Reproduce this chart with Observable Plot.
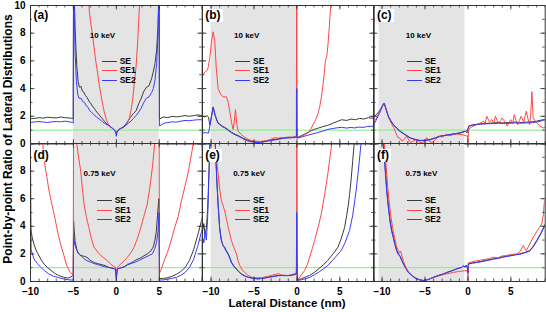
<!DOCTYPE html>
<html>
<head>
<meta charset="utf-8">
<script src="https://cdn.jsdelivr.net/npm/d3@7"></script>
<script src="https://cdn.jsdelivr.net/npm/@observablehq/plot@0.6"></script>
<style>
  body { margin: 0; background: #fff; }
  #chart { position: relative; width: 546px; height: 312px; overflow: hidden;
           font-family: "Liberation Sans", Arial, sans-serif; font-weight: bold; color: #000; }
  .abs { position: absolute; white-space: nowrap; }
  .plabel { font-size: 12px; line-height: 13px; background: #fff; padding: 0 2px; }
  .energy { font-size: 8px; line-height: 8px; transform: translateX(-50%); }
  .legend { font-size: 8.5px; line-height: 9.6px; }
  .legend .row { display: flex; align-items: center; }
  .legend .swatch { display: inline-block; width: 15px; height: 0; border-top: 1px solid; margin-right: 3px; }
  .ytitle { font-size: 12px; transform: translate(-50%, -50%) rotate(-90deg); }
  .xtitle { font-size: 11.5px; transform: translateX(-50%); }
</style>
</head>
<body>
<div id="chart"></div>
<script>
// Point-by-point ratio of lateral distributions, [x (nm), ratio] pairs.
// Values above the axis top (10) are kept off-scale and clipped by the frame.

// (a) 10 keV
const a_SE = [[-10,1.82],[-9.5,1.85],[-9,1.9],[-8.5,1.87],[-8,1.93],[-7.5,1.9],[-7,1.88],[-6.5,1.95],[-6,1.9],[-5.5,1.88],[-5.1,1.85],[-5.02,1.8],[-4.98,14],[-4.9,10.5],[-4.8,8.3],[-4.7,6.8],[-4.6,5.6],[-4.45,4.5],[-4.3,4.1],[-4.1,4.15],[-3.95,3.8],[-3.8,3.75],[-3.6,3.5],[-3.4,3.35],[-3.2,3.1],[-3,2.95],[-2.8,2.75],[-2.6,2.6],[-2.4,2.4],[-2.2,2.25],[-2,2.1],[-1.8,1.95],[-1.6,1.8],[-1.4,1.65],[-1.2,1.5],[-1,1.4],[-0.8,1.3],[-0.6,1.2],[-0.4,1.1],[-0.2,1],[-0.08,0.9],[0,0.7],[0.08,0.9],[0.2,1],[0.4,1.1],[0.6,1.15],[0.8,1.25],[1,1.35],[1.3,1.6],[1.6,1.9],[2,2.2],[2.3,2.4],[2.6,2.9],[2.9,3.3],[3.2,3.8],[3.5,4.1],[3.8,4.2],[4.1,4.7],[4.3,5.2],[4.5,5.8],[4.7,6.8],[4.85,8.5],[4.95,11],[4.98,14],[5.02,1.8],[5.5,1.95],[6,1.9],[6.5,2],[7,1.95],[7.5,2],[8,2.05],[8.5,2],[9,2.05],[9.5,2.1],[10,2.05]];
const a_SE1 = [[-10,14],[-3.3,11],[-3.15,9.6],[-3,8.8],[-2.8,8],[-2.6,7],[-2.4,6],[-2.2,5.2],[-2,4.3],[-1.8,3.55],[-1.6,2.9],[-1.4,2.3],[-1.2,1.85],[-1,1.5],[-0.8,1.3],[-0.6,1.2],[-0.4,1.12],[-0.2,1],[-0.08,0.9],[0,0.7],[0.1,0.95],[0.3,1.08],[0.6,1.15],[0.9,1.22],[1.2,1.45],[1.5,1.8],[1.7,2.4],[1.9,3.2],[2.1,4.4],[2.3,5.6],[2.5,7.5],[2.65,9.5],[2.8,11],[10,14]];
const a_SE2 = [[-10,1.55],[-9.5,1.6],[-9,1.62],[-8.5,1.58],[-8,1.55],[-7.5,1.6],[-7,1.62],[-6.5,1.6],[-6,1.65],[-5.5,1.6],[-5.1,1.55],[-5.02,1.5],[-4.98,14],[-4.9,9.5],[-4.8,6.5],[-4.65,4.5],[-4.5,3.6],[-4.35,3.3],[-4.1,3.3],[-3.9,3.05],[-3.7,3],[-3.5,2.75],[-3.3,2.65],[-3.1,2.4],[-2.9,2.3],[-2.6,2.1],[-2.3,1.95],[-2,1.8],[-1.7,1.65],[-1.4,1.5],[-1.1,1.4],[-0.8,1.3],[-0.5,1.15],[-0.25,1],[-0.08,0.85],[0,0.55],[0.08,0.85],[0.25,1],[0.5,1.1],[0.8,1.2],[1.1,1.35],[1.4,1.5],[1.7,1.65],[2,1.85],[2.3,2.05],[2.6,2.3],[2.9,2.6],[3.2,3],[3.5,3.3],[3.8,3.4],[4.1,3.7],[4.3,4],[4.5,4.6],[4.7,5.8],[4.85,7.8],[4.95,10.5],[4.98,14],[5.02,1.3],[5.3,1.4],[5.6,1.5],[6,1.55],[6.5,1.6],[7,1.58],[7.5,1.65],[8,1.7],[8.5,1.68],[9,1.72],[9.5,1.75],[10,1.75]];

// (b) 10 keV
const b_SE = [[-11,2],[-10.7,1.95],[-10.5,2.05],[-10.3,1.95],[-10.15,1.35],[-10,1.85],[-9.76,2.68],[-9.55,2.15],[-9.37,1.8],[-9.2,1.55],[-8.99,1.44],[-8.7,1.29],[-8.4,1.2],[-8,1.02],[-7.63,0.85],[-7.2,0.7],[-6.85,0.61],[-6.3,0.42],[-5.69,0.25],[-5.1,0.17],[-4.53,0.14],[-3.9,0.19],[-3.36,0.25],[-2.8,0.31],[-2.2,0.37],[-1.6,0.44],[-1.03,0.49],[-0.5,0.49],[-0.05,0.52],[-0.02,1.15],[0.02,0.45],[0.5,0.6],[1,0.75],[1.5,0.9],[2,1.05],[2.5,1.15],[3,1.25],[3.6,1.35],[4.2,1.5],[4.8,1.65],[5.2,1.75],[5.8,1.7],[6.3,1.8],[6.8,1.75],[7.3,1.85],[7.8,1.8],[8.3,1.9],[9,1.85]];
const b_SE1 = [[-11,5],[-10.7,5.2],[-10.4,5.35],[-10.15,6.2],[-9.95,7.4],[-9.76,8.1],[-9.57,7.4],[-9.4,5.5],[-9.18,4],[-8.9,3.6],[-8.6,3.4],[-8.2,3.4],[-8,3],[-7.83,2.36],[-7.6,1.5],[-7.44,1.05],[-7.3,1.6],[-7.16,2.48],[-7,1.4],[-6.85,0.93],[-6.5,0.7],[-6.27,0.57],[-5.69,0.33],[-5.3,0.25],[-4.9,0.21],[-4.3,0.18],[-3.75,0.21],[-3.2,0.3],[-2.6,0.45],[-2.2,0.42],[-1.8,0.47],[-1.2,0.44],[-0.65,0.45],[-0.07,0.57],[-0.02,14],[0.02,0.42],[0.5,0.55],[1,0.7],[1.29,0.8],[1.6,1.05],[1.87,1.4],[2.1,1.65],[2.26,1.88],[2.45,2.2],[2.64,2.64],[2.85,3.4],[3.03,4.26],[3.2,5.2],[3.3,5.9],[3.45,6.3],[3.53,6.6],[3.62,7.2],[3.69,7.8],[3.78,8.5],[3.88,9.5],[4,10.5],[4.2,12],[9,14]];
const b_SE2 = [[-11,0.8],[-10.6,0.82],[-10.3,0.78],[-10.15,1.29],[-10,1.8],[-9.76,2.64],[-9.55,2.1],[-9.37,1.76],[-9.2,1.5],[-8.99,1.4],[-8.7,1.25],[-8.4,1.16],[-8,0.98],[-7.63,0.81],[-7.2,0.66],[-6.85,0.57],[-6.3,0.38],[-5.69,0.21],[-5.1,0.13],[-4.53,0.1],[-3.9,0.15],[-3.36,0.21],[-2.8,0.27],[-2.2,0.33],[-1.6,0.4],[-1.03,0.45],[-0.5,0.45],[-0.05,0.48],[-0.02,4],[0.02,0.42],[0.6,0.52],[1.2,0.62],[1.8,0.72],[2.4,0.82],[3,0.93],[3.6,1.05],[4.2,1.12],[4.8,1.18],[5.2,1.2],[5.8,1.15],[6.3,1.2],[6.7,1.16],[7.2,1.22],[7.7,1.2],[8.2,1.26],[8.65,1.28],[9,1.3]];

// (c) 10 keV
const c_SE = [[-11,1.95],[-10.7,2.1],[-10.4,2.3],[-10.1,2.6],[-9.9,2.85],[-9.76,2.95],[-9.5,2.45],[-9.26,2],[-9,1.7],[-8.67,1.4],[-8.3,1.15],[-7.9,0.93],[-7.3,0.68],[-6.73,0.45],[-6.1,0.33],[-5.57,0.26],[-5,0.27],[-4.4,0.33],[-3.8,0.45],[-3.24,0.57],[-2.6,0.63],[-2.08,0.69],[-1.5,0.75],[-0.92,0.81],[-0.6,0.88],[-0.34,0.93],[-0.1,0.8],[0,1.05],[0.1,1.3],[0.5,1.38],[1,1.42],[1.4,1.45],[2,1.48],[2.95,1.52],[3.5,1.55],[4,1.52],[4.9,1.55],[5.5,1.58],[6,1.55],[6.84,1.58],[7.5,1.6],[8,1.65],[8.8,1.76],[9,1.78]];
const c_SE1 = [[-11,1.6],[-10.7,1.8],[-10.4,2.2],[-10.1,2.6],[-9.76,2.95],[-9.5,2.5],[-9.26,2],[-9,1.6],[-8.67,1.2],[-8.4,0.8],[-8.2,0.5],[-7.9,0.4],[-7.7,0.21],[-7.4,0.35],[-7.1,0.57],[-6.9,0.3],[-6.7,0.1],[-6.4,0.2],[-6.1,0.3],[-5.8,0.15],[-5.3,0.1],[-5,0.25],[-4.8,0.45],[-4.5,0.2],[-4.2,0.1],[-3.8,0.3],[-3.4,0.57],[-3,0.5],[-2.5,0.69],[-2.1,0.6],[-1.7,0.69],[-1.3,0.72],[-0.9,0.69],[-0.5,0.65],[-0.2,0.57],[-0.05,0.6],[0,0.2],[0.1,1.1],[0.6,1.29],[1,1.4],[1.4,1.5],[1.8,1.64],[2,1.5],[2.2,2],[2.5,1.6],[2.8,1.76],[3,1.5],[3.2,2],[3.4,1.7],[3.6,1.52],[3.8,1.7],[4,1.88],[4.3,1.6],[4.6,1.29],[4.8,1.6],[5,1.76],[5.2,1.5],[5.4,2.12],[5.6,1.7],[5.8,1.4],[6,1.7],[6.2,2],[6.5,1.6],[6.8,2.36],[7,1.8],[7.2,1.4],[7.3,2],[7.45,3.78],[7.6,1.88],[7.8,1.7],[8,1.52],[8.4,1.29],[8.8,1.16],[9,1.2]];
const c_SE2 = [[-11,1.4],[-10.7,1.7],[-10.4,2.1],[-10.1,2.5],[-9.9,2.8],[-9.76,2.95],[-9.5,2.4],[-9.26,1.95],[-9,1.65],[-8.67,1.38],[-8.3,1.12],[-7.9,0.9],[-7.3,0.65],[-6.73,0.43],[-6.1,0.3],[-5.57,0.24],[-5,0.25],[-4.4,0.3],[-3.8,0.42],[-3.24,0.55],[-2.6,0.62],[-2.08,0.67],[-1.5,0.72],[-0.92,0.78],[-0.6,0.85],[-0.34,0.9],[-0.15,0.95],[0,1.1],[0.1,1.28],[0.5,1.35],[1,1.4],[1.4,1.43],[2,1.45],[2.95,1.48],[3.5,1.5],[4,1.48],[4.9,1.5],[5.5,1.52],[6,1.5],[6.84,1.52],[7.5,1.55],[8,1.58],[8.8,1.7],[9,1.72]];

// (d) 0.75 keV
const d_SE = [[-10,3.9],[-9.8,3.2],[-9.6,2.7],[-9.3,2.2],[-9,1.85],[-8.7,1.5],[-8.4,1.25],[-8,1],[-7.6,0.8],[-7.2,0.6],[-6.7,0.43],[-6.2,0.32],[-5.7,0.25],[-5.4,0.28],[-5.15,0.4],[-5.02,0.45],[-4.98,4.4],[-4.9,3.6],[-4.8,2.9],[-4.6,2.3],[-4.4,2],[-4.2,1.9],[-3.9,1.85],[-3.6,1.8],[-3.3,1.7],[-3.1,1.55],[-2.8,1.45],[-2.5,1.35],[-2.2,1.3],[-1.9,1.25],[-1.6,1.2],[-1.3,1.15],[-1,1.05],[-0.7,1],[-0.4,0.95],[-0.12,0.9],[0,0.3],[0.12,0.9],[0.4,0.97],[0.7,1.02],[1,1.1],[1.3,1.25],[1.6,1.3],[2,1.45],[2.4,1.6],[2.8,1.7],[3.2,1.85],[3.6,2],[4,2.2],[4.3,2.5],[4.5,3],[4.65,3.6],[4.8,4.8],[4.95,6],[4.98,6],[5.02,0.2],[5.5,0.22],[6,0.28],[6.5,0.38],[7,0.52],[7.5,0.72],[8,1],[8.5,1.5],[9,2.3],[9.5,3.4],[10,4.6]];
const d_SE1 = [[-10,14],[-8.7,11],[-8.4,8.75],[-8.1,7.6],[-7.85,6.6],[-7.55,5.7],[-7.26,4.9],[-7,4.1],[-6.7,3.2],[-6.4,2.5],[-6.1,1.88],[-5.9,1.4],[-5.7,1.03],[-5.45,0.75],[-5.2,0.56],[-5.02,0.5],[-4.98,14],[-4.7,11],[-4.6,10],[-4.4,9],[-4.15,8],[-3.95,6.7],[-3.76,5.6],[-3.5,4.7],[-3.2,3.9],[-2.9,3.1],[-2.6,2.48],[-2.2,2.15],[-1.8,1.88],[-1.4,1.68],[-1.04,1.5],[-0.7,1.3],[-0.45,1.16],[-0.15,1.05],[0,0.75],[0.15,1.05],[0.5,1.25],[0.9,1.5],[1.3,1.76],[1.7,2.1],[2.06,2.48],[2.45,3.1],[2.85,3.9],[3.2,4.7],[3.6,5.6],[3.9,6.8],[4.2,8.3],[4.4,9.5],[4.55,11],[4.98,14],[5.02,0.6],[5.3,1],[5.6,1.55],[6,2.2],[6.4,3],[6.8,3.9],[7.2,4.7],[7.6,5.9],[8,6.9],[8.4,8],[8.8,9.4],[9,10.2],[9.3,12],[10,14]];
const d_SE2 = [[-10,9.3],[-9.93,2.3],[-9.6,1.64],[-9.2,1.3],[-8.8,1.03],[-8.4,0.8],[-7.9,0.56],[-7.3,0.38],[-6.7,0.27],[-6.1,0.18],[-5.5,0.12],[-5.02,0.1],[-4.98,3.2],[-4.85,2.7],[-4.7,2.4],[-4.5,2.15],[-4.35,2],[-4,1.8],[-3.76,1.64],[-3.4,1.5],[-3,1.4],[-2.6,1.3],[-2.2,1.23],[-1.8,1.15],[-1.4,1.08],[-1,1.02],[-0.6,0.98],[-0.3,0.95],[-0.1,0.9],[0,0.15],[0.1,0.9],[0.3,0.95],[0.6,1],[1,1.08],[1.3,1.2],[1.7,1.3],[2.2,1.4],[2.7,1.55],[3.2,1.7],[3.7,1.85],[4.2,2],[4.5,2.4],[4.7,2.9],[4.85,3.6],[4.98,5],[5.02,0.1],[5.5,0.12],[6,0.17],[6.5,0.23],[7,0.3],[7.5,0.45],[8,0.65],[8.5,1],[9,1.6],[9.5,2.6],[10,3.8]];

// (e) 0.75 keV
const e_SE = [[-11,3.6],[-10.85,4.2],[-10.7,3.4],[-10.55,3.9],[-10.4,5.2],[-10.25,8],[-10.1,11],[-10,13],[-9.7,12],[-9.5,9.8],[-9.35,7.5],[-9.18,5.6],[-9,3.9],[-8.8,3],[-8.6,2.6],[-8.41,2.48],[-8.2,2.2],[-8,2],[-7.8,1.7],[-7.63,1.4],[-7.3,1.1],[-7.05,0.92],[-6.75,0.7],[-6.47,0.56],[-6.1,0.42],[-5.69,0.31],[-5.1,0.24],[-4.53,0.2],[-3.9,0.25],[-3.36,0.31],[-2.8,0.38],[-2.2,0.43],[-1.6,0.45],[-1.03,0.43],[-0.5,0.48],[-0.07,0.56],[-0.02,1.3],[0.05,0.12],[0.5,0.2],[1,0.32],[1.5,0.45],[2.06,0.67],[2.6,0.95],[3.1,1.22],[3.6,1.52],[4,1.85],[4.4,2.15],[4.77,2.48],[5.1,3],[5.35,3.5],[5.55,3.9],[5.8,4.8],[6,5.6],[6.13,6.3],[6.3,7.3],[6.5,8.75],[6.7,10.2],[6.9,12],[9,14]];
const e_SE1 = [[-11,14],[-9.9,13],[-9.6,10.5],[-9.4,9],[-9.18,7.8],[-9,6.7],[-8.8,5.85],[-8.6,5.5],[-8.41,5.1],[-8.2,4.5],[-8,3.9],[-7.8,3.4],[-7.63,2.96],[-7.3,2.4],[-7.05,2],[-6.85,1.5],[-6.66,1.16],[-6.4,0.85],[-6.08,0.67],[-5.7,0.45],[-5.3,0.31],[-4.7,0.27],[-4.14,0.27],[-3.6,0.35],[-3,0.43],[-2.6,0.5],[-2.2,0.56],[-1.9,0.5],[-1.6,0.43],[-1.03,0.43],[-0.6,0.5],[-0.27,0.56],[-0.05,0.6],[-0.02,14],[0.05,0.1],[0.5,0.45],[0.9,0.8],[1.2,1.2],[1.48,1.76],[1.8,2.4],[2.06,2.96],[2.45,3.9],[2.84,4.9],[3.2,6.2],[3.6,7.8],[3.85,9],[4,9.7],[4.15,10.5],[4.4,12],[9,14]];
const e_SE2 = [[-11,3.2],[-10.85,2.8],[-10.7,3.6],[-10.55,3],[-10.4,4.6],[-10.25,7.5],[-10.1,10.5],[-10,13],[-9.7,12.5],[-9.5,10],[-9.35,7.6],[-9.18,5.5],[-9,3.8],[-8.8,2.96],[-8.6,2.6],[-8.41,2.4],[-8.2,2.15],[-8,1.95],[-7.8,1.65],[-7.63,1.35],[-7.3,1.05],[-7.05,0.88],[-6.75,0.68],[-6.47,0.52],[-6.1,0.4],[-5.69,0.3],[-5.1,0.22],[-4.53,0.18],[-3.9,0.23],[-3.36,0.29],[-2.8,0.35],[-2.2,0.42],[-1.6,0.43],[-1.03,0.42],[-0.5,0.46],[-0.07,0.52],[-0.02,5],[0.05,0.07],[0.5,0.12],[1,0.2],[1.5,0.3],[2.06,0.5],[2.6,0.7],[3.1,0.92],[3.6,1.16],[4.1,1.5],[4.6,1.85],[5.16,2.24],[5.6,2.8],[6.13,3.7],[6.5,4.8],[6.9,6.6],[7.2,8.3],[7.5,10.2],[7.7,12],[9,14]];

// (f) 0.75 keV
const f_SE = [[-11,14],[-9.95,12],[-9.84,10],[-9.64,8.27],[-9.44,6.58],[-9.25,5.4],[-9.06,4.4],[-8.87,3.7],[-8.67,3.2],[-8.48,2.7],[-8.28,2.24],[-8.1,2],[-7.9,1.85],[-7.7,1.55],[-7.5,1.28],[-7.2,0.95],[-6.93,0.67],[-6.55,0.45],[-6.15,0.27],[-5.7,0.15],[-5.19,0.07],[-4.6,0.15],[-4.02,0.31],[-3.4,0.45],[-2.86,0.56],[-2.5,0.65],[-2.08,0.74],[-1.7,0.82],[-1.3,0.92],[-1,0.98],[-0.72,1.03],[-0.5,1.15],[-0.34,1.05],[-0.2,1.18],[-0.05,1],[0,0.6],[0.05,1.28],[0.5,1.35],[1.02,1.4],[1.5,1.45],[2,1.52],[2.95,1.64],[3.5,1.7],[4,1.78],[4.9,1.88],[5.5,1.95],[6.05,2],[6.6,2.1],[7.2,2.24],[7.6,2.55],[8,2.96],[8.5,3.5],[9,4.17]];
const f_SE1 = [[-11,14],[-9.9,12],[-9.75,10],[-9.55,8.5],[-9.35,6.9],[-9.15,5.6],[-8.95,4.6],[-8.75,3.8],[-8.55,3.2],[-8.35,2.6],[-8.15,2.3],[-7.98,2.05],[-7.85,2.2],[-7.7,1.9],[-7.5,1.45],[-7.2,1],[-6.93,0.7],[-6.55,0.45],[-6.15,0.25],[-5.7,0.12],[-5.19,0.08],[-4.6,0.15],[-4.02,0.28],[-3.4,0.4],[-2.86,0.5],[-2.5,0.55],[-2.08,0.6],[-1.7,0.66],[-1.3,0.7],[-1,0.72],[-0.72,0.75],[-0.4,0.78],[-0.15,0.8],[-0.02,0.6],[0,0.1],[0.05,1.35],[0.5,1.42],[1.02,1.5],[1.5,1.55],[2,1.6],[2.5,1.66],[2.95,1.76],[3.5,1.72],[4,1.85],[4.5,1.88],[5,1.95],[5.7,2],[6.1,2.2],[6.44,2.6],[6.8,2.24],[7.2,2.7],[7.6,3.2],[8,3.6],[8.3,3.9],[8.6,4.17],[8.8,4.9],[8.9,5.73],[9,5.9]];
const f_SE2 = [[-11,14],[-9.97,12],[-9.86,10],[-9.66,8.2],[-9.46,6.5],[-9.27,5.35],[-9.08,4.35],[-8.89,3.65],[-8.69,3.15],[-8.5,2.65],[-8.3,2.2],[-8.12,1.97],[-7.92,1.82],[-7.72,1.52],[-7.52,1.25],[-7.22,0.92],[-6.95,0.65],[-6.57,0.43],[-6.17,0.25],[-5.72,0.13],[-5.21,0.06],[-4.62,0.14],[-4.04,0.3],[-3.42,0.43],[-2.88,0.54],[-2.52,0.63],[-2.1,0.72],[-1.72,0.8],[-1.32,0.9],[-1.02,0.96],[-0.74,1.01],[-0.52,1.13],[-0.36,1.03],[-0.22,1.16],[-0.06,0.98],[0,0.62],[0.05,1.25],[0.5,1.32],[1.02,1.37],[1.5,1.42],[2,1.49],[2.95,1.61],[3.5,1.67],[4,1.75],[4.9,1.85],[5.5,1.92],[6.05,1.97],[6.6,2.07],[7.2,2.2],[7.6,2.5],[8,2.9],[8.5,3.45],[9,4.1]];

// Shaded (gray) intervals along the lateral axis, nm
const shadeAD = [-5, 5];
const shadeBE = [-10, 0];
const shadeCF = [-10.35, -0.35];

// Axis domains and tick labels
const domainA = [-10, 10];
const domainBC = [-11, 9];
const yDomain = [0, 10];
const xTickLabels = [-10, -5, 0, 5];
const yTickLabelsTop = [0, 2, 4, 6, 8, 10];
const yTickLabelsBottom = [0, 2, 4, 6, 8];

const seriesNames = ["SE", "SE1", "SE2"];
const energies = ["10 keV", "0.75 keV"];

const colors = { SE: "#3a3a3a", SE1: "#ff4545", SE2: "#3a3aff" };
const green = "#7cf07c";
const shadeFill = "#e4e4e4";
const frameColor = "#333";

const panels = [
  { id: "a", row: 0, col: 0, domain: domainA,  shade: shadeAD, SE: a_SE, SE1: a_SE1, SE2: a_SE2, eDx: 72.5, legDx: 71.7 },
  { id: "b", row: 0, col: 1, domain: domainBC, shade: shadeBE, SE: b_SE, SE1: b_SE1, SE2: b_SE2, eDx: 45,   legDx: 33.3 },
  { id: "c", row: 0, col: 2, domain: domainBC, shade: shadeCF, SE: c_SE, SE1: c_SE1, SE2: c_SE2, eDx: 45,   legDx: 33.3 },
  { id: "d", row: 1, col: 0, domain: domainA,  shade: shadeAD, SE: d_SE, SE1: d_SE1, SE2: d_SE2, eDx: 69.5, legDx: 66.7 },
  { id: "e", row: 1, col: 1, domain: domainBC, shade: shadeBE, SE: e_SE, SE1: e_SE1, SE2: e_SE2, eDx: 47.5, legDx: 33.3 },
  { id: "f", row: 1, col: 2, domain: domainBC, shade: shadeCF, SE: f_SE, SE1: f_SE1, SE2: f_SE2, eDx: 48,   legDx: 33.3 }
];

// Frame geometry (px)
const colLeft = [30, 201.7, 373.4];
const colW = 171.7;
const rowTop = [4.5, 143];
const rowH = [138.5, 138];

const chart = document.getElementById("chart");

function addDiv(cls, text, left, top) {
  const el = document.createElement("div");
  el.className = "abs " + cls;
  if (text != null) el.textContent = text;
  el.style.left = left + "px";
  el.style.top = top + "px";
  chart.appendChild(el);
  return el;
}

function drawPanel(p) {
  const W = colW, H = rowH[p.row];
  const mL = p.col === 0 ? 30 : 0;
  const mB = p.row === 1 ? 18 : 0;
  const [x0, x1] = p.domain;
  const yPerPx = (yDomain[1] - yDomain[0]) / H;
  const xPerPx = (x1 - x0) / W;
  const xMinor = d3.range(Math.ceil(x0), x1 + 1e-9, 1);
  const xMajor = xMinor.filter(v => v % 5 === 0);
  const yMinor = d3.range(yDomain[0], yDomain[1] + 1e-9, 1);
  const yMajor = yMinor.filter(v => v % 2 === 0);
  const minorLen = 2.5, majorLen = 4.5;

  const inwardX = (vals, len) => [
    Plot.ruleX(vals, { x: d => d, y1: yDomain[0], y2: yDomain[0] + len * yPerPx, stroke: frameColor, strokeWidth: 0.8 }),
    Plot.ruleX(vals, { x: d => d, y1: yDomain[1] - len * yPerPx, y2: yDomain[1], stroke: frameColor, strokeWidth: 0.8 })
  ];
  const inwardY = (vals, len) => [
    Plot.ruleY(vals, { y: d => d, x1: x0, x2: x0 + len * xPerPx, stroke: frameColor, strokeWidth: 0.8 }),
    Plot.ruleY(vals, { y: d => d, x1: x1 - len * xPerPx, x2: x1, stroke: frameColor, strokeWidth: 0.8 })
  ];

  const svg = Plot.plot({
    width: W + mL,
    height: H + mB,
    marginLeft: mL, marginRight: 0, marginTop: 0, marginBottom: mB,
    x: p.row === 1
      ? { domain: p.domain, ticks: xTickLabels, tickSize: 0, tickPadding: 6, label: null }
      : { domain: p.domain, axis: null },
    y: p.col === 0
      ? { domain: yDomain, ticks: p.row === 0 ? yTickLabelsTop : yTickLabelsBottom, tickSize: 0, tickPadding: 5, label: null }
      : { domain: yDomain, axis: null },
    style: { background: "transparent", overflow: "visible", fontFamily: "'Liberation Sans', Arial, sans-serif", fontWeight: "bold", fontSize: "10px", color: "#000" },
    marks: [
      Plot.rect([p.shade], { x1: d => d[0], x2: d => d[1], y1: yDomain[0], y2: yDomain[1], fill: shadeFill }),
      Plot.ruleY([1], { stroke: green, strokeWidth: 1 }),
      ...seriesNames.map(s => Plot.line(p[s], { x: d => d[0], y: d => d[1], stroke: colors[s], strokeWidth: 1, clip: true })),
      ...inwardX(xMinor, minorLen),
      ...inwardX(xMajor, majorLen),
      ...inwardY(yMinor, minorLen),
      ...inwardY(yMajor, majorLen),
      Plot.frame({ stroke: frameColor, strokeWidth: 1 })
    ]
  });
  svg.style.position = "absolute";
  svg.style.left = (colLeft[p.col] - mL) + "px";
  svg.style.top = rowTop[p.row] + "px";
  chart.appendChild(svg);

  // panel tag
  addDiv("plabel", `(${p.id})`, colLeft[p.col] + 1.5, rowTop[p.row] + (p.row === 0 ? 4 : 5.5));
  // beam energy
  addDiv("energy", energies[p.row], colLeft[p.col] + p.eDx, rowTop[p.row] + (p.row === 0 ? 27.5 : 26.5));
  // legend
  const leg = addDiv("legend", null, colLeft[p.col] + p.legDx, rowTop[p.row] + (p.row === 0 ? 52 : 53));
  seriesNames.forEach(s => {
    const row = document.createElement("div");
    row.className = "row";
    const sw = document.createElement("span");
    sw.className = "swatch";
    sw.style.borderTopColor = colors[s];
    const tx = document.createElement("span");
    tx.textContent = s;
    row.appendChild(sw);
    row.appendChild(tx);
    leg.appendChild(row);
  });
}

panels.forEach(drawPanel);

addDiv("ytitle", "Point-by-point Ratio of Lateral Distributions", 8, 139);
addDiv("xtitle", "Lateral Distance (nm)", 287, 297);
</script>
</body>
</html>
